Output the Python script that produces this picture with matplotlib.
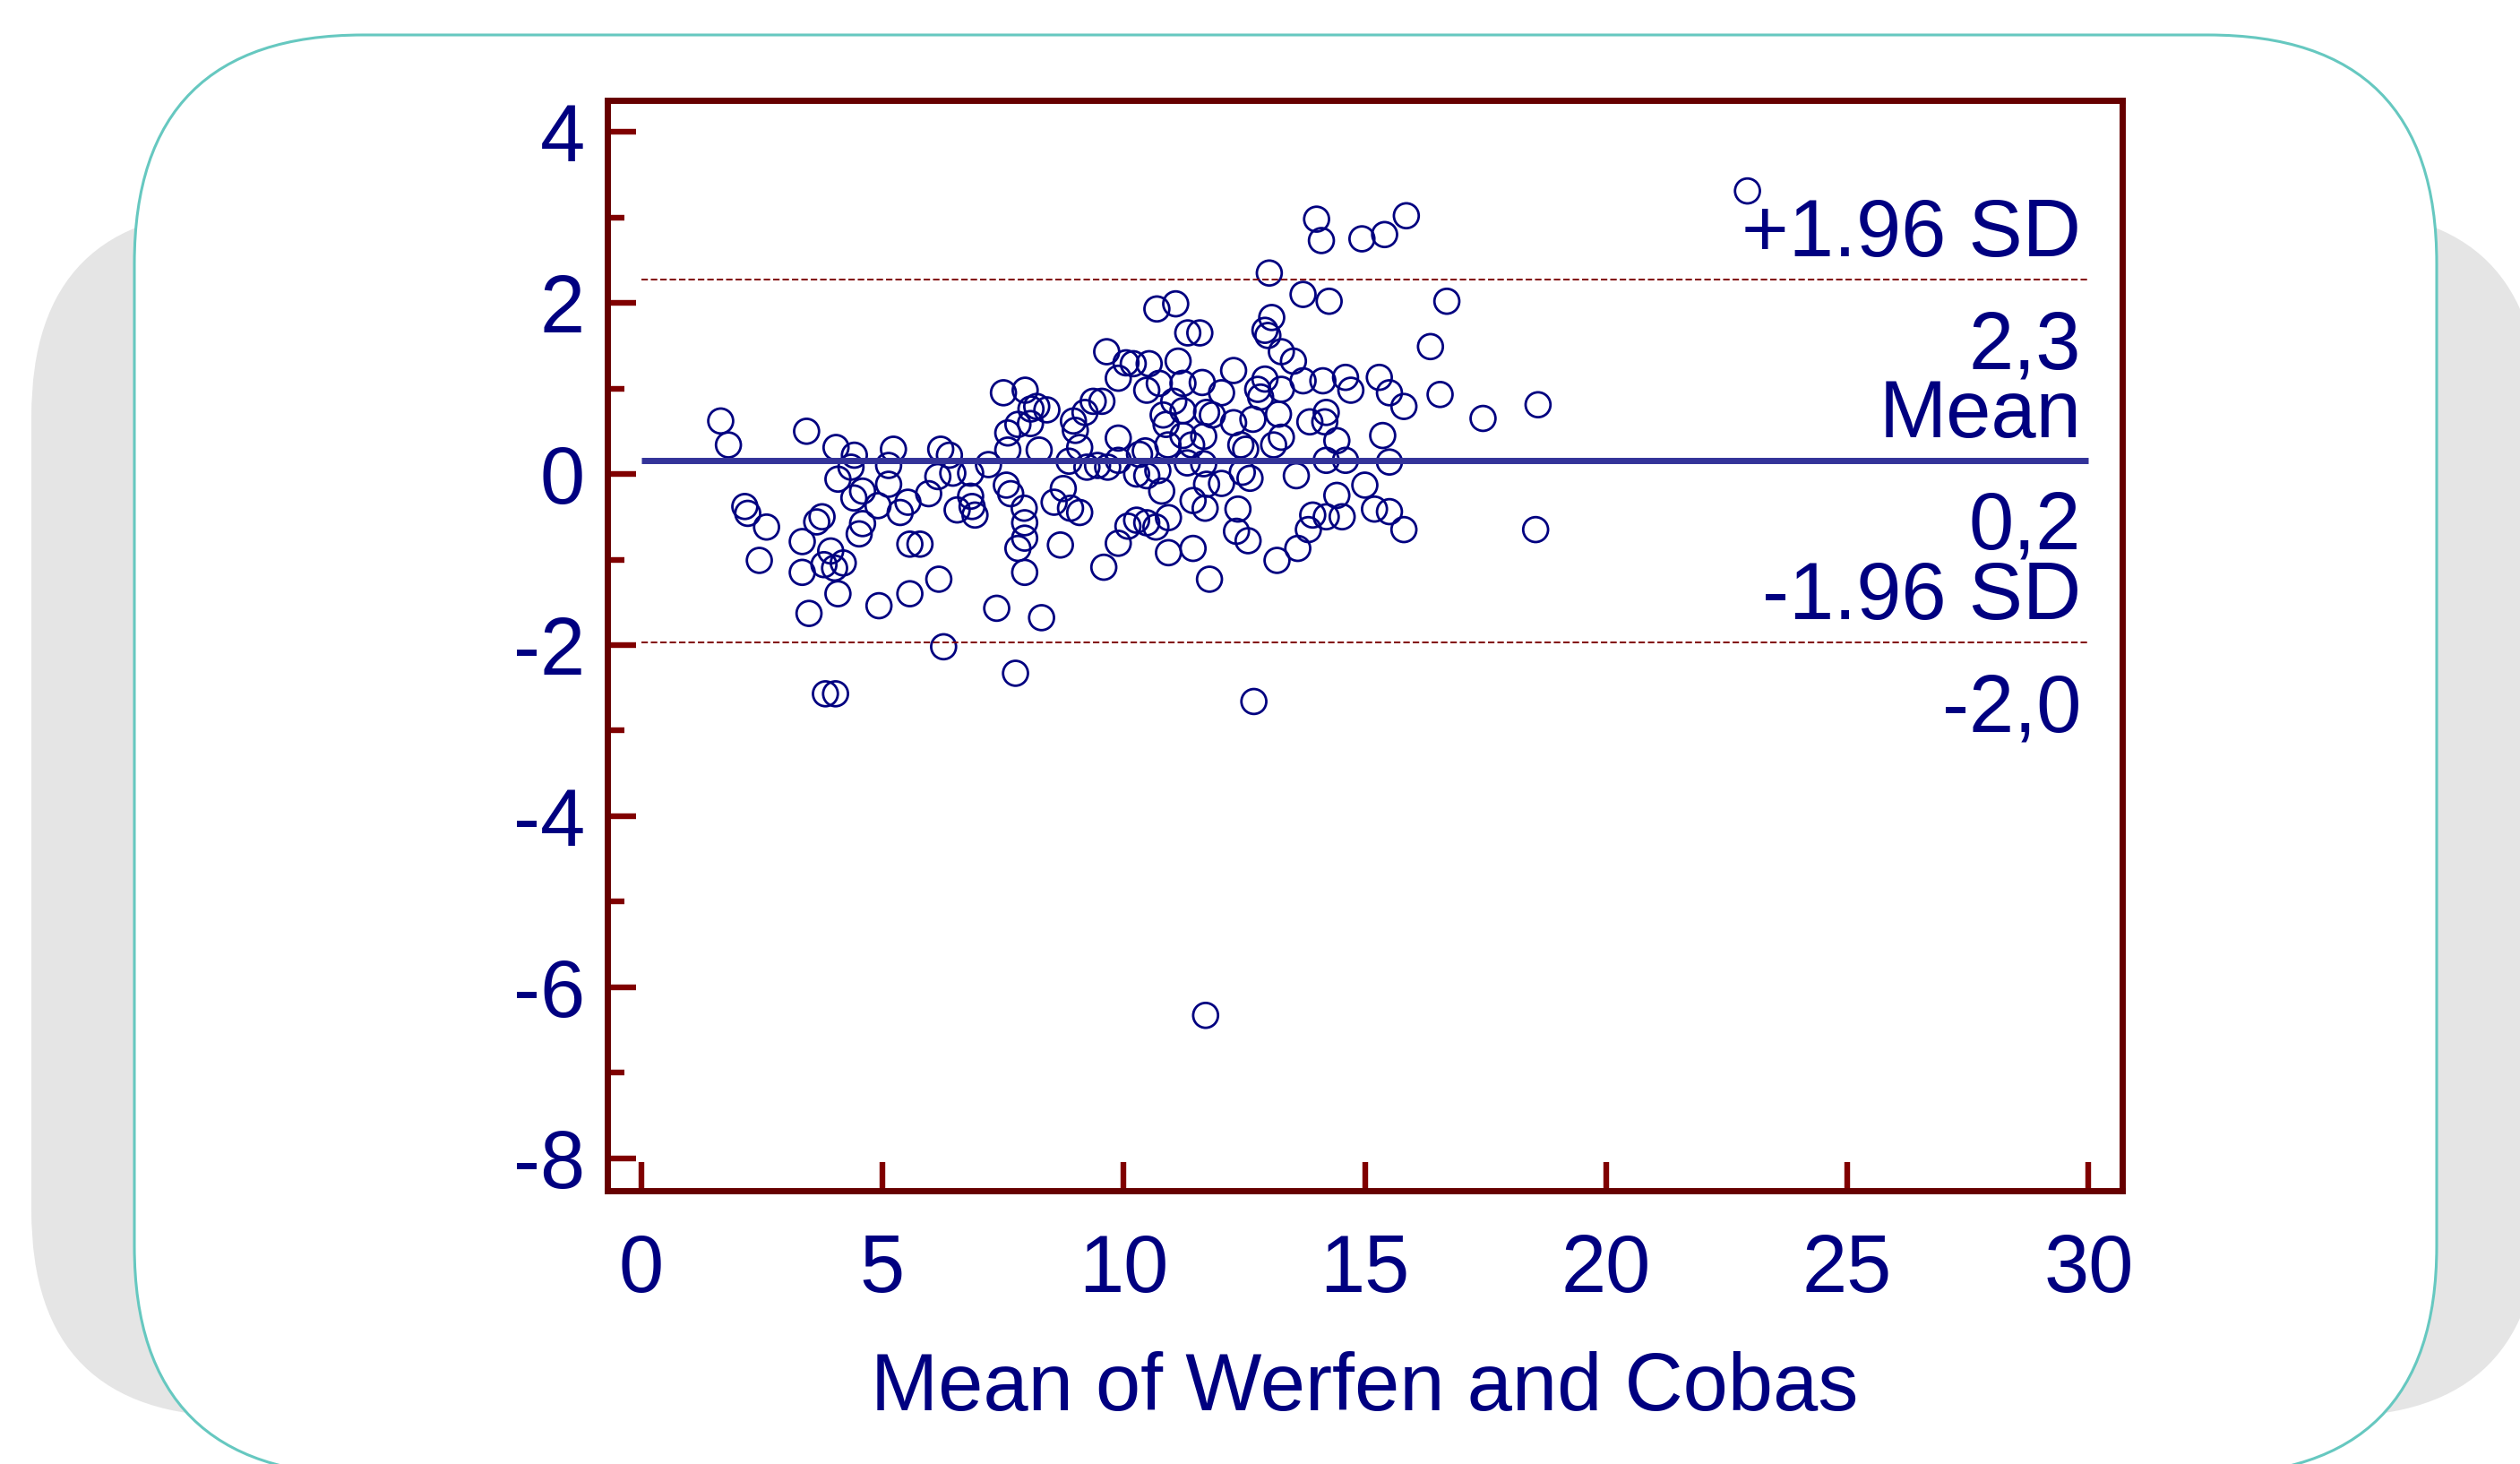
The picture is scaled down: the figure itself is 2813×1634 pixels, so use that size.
import matplotlib
matplotlib.use("Agg")
import matplotlib.pyplot as plt
from matplotlib.patches import FancyBboxPatch
from matplotlib.ticker import MultipleLocator

plt.rcParams['font.family'] = ['Liberation Sans', 'DejaVu Sans']
plt.rcParams['axes.unicode_minus'] = False

# Bland-Altman data: mean of both methods vs. difference
mean_werfen_cobas = [
    1.65, 1.81, 3.43, 4.04, 4.42, 4.35, 5.23, 5.13, 6.21, 6.39,
    7.51, 7.96, 8.08, 8.20, 8.41, 8.07, 7.81, 7.60, 7.60, 8.25,
    7.20, 6.83, 6.46, 6.15, 4.08, 4.41, 4.59, 5.13, 4.91, 5.53,
    5.37, 5.96, 6.55, 6.83, 6.86, 6.92, 7.57, 7.66, 7.94, 7.95,
    7.95, 7.81, 7.95, 2.15, 2.21, 2.60, 2.45, 3.34, 3.34, 3.48,
    3.64, 3.75, 3.93, 3.79, 4.01, 4.19, 4.08, 3.82, 4.03, 4.52,
    4.59, 4.93, 5.57, 5.78, 5.57, 6.17, 6.27, 7.37, 7.76, 8.30,
    13.02, 13.72, 14.26, 10.69, 11.08, 11.33, 11.58, 13.07, 12.93, 12.99,
    13.27, 13.52, 9.65, 10.05, 10.20, 10.53, 9.89, 11.13, 12.28, 10.48,
    10.74, 11.23, 11.63, 12.03, 12.93, 12.78, 12.84, 13.27, 13.72, 14.13,
    14.60, 14.71, 8.96, 9.00, 9.20, 9.37, 9.55, 9.09, 8.87, 9.24,
    9.46, 9.67, 9.89, 9.89, 10.33, 10.45, 10.27, 10.48, 10.71, 10.79,
    10.82, 10.88, 10.92, 11.04, 11.23, 11.23, 11.41, 11.32, 11.66, 11.72,
    11.84, 11.66, 11.72, 12.03, 12.28, 12.43, 12.53, 12.46, 12.62, 12.68,
    13.21, 13.27, 13.11, 13.58, 13.86, 14.20, 14.17, 14.42, 14.20, 14.60,
    14.42, 13.92, 14.20, 14.53, 13.83, 13.61, 13.18, 12.37, 12.34, 12.58,
    11.44, 11.69, 11.78, 11.44, 10.93, 10.93, 10.67, 10.48, 10.27, 10.09,
    9.89, 9.59, 8.69, 9.09, 8.90, 8.56, 8.75,
    15.86, 15.41, 14.94, 16.70, 16.36, 15.30, 15.51, 15.81, 16.56, 17.45,
    18.59, 15.37, 15.51, 15.00, 15.20, 15.51, 15.81, 18.54,
    14.00, 14.10, 22.93, 11.70, 12.70,
]
difference = [
    0.62, 0.34, 0.50, 0.31, 0.22, 0.08, 0.29, 0.10, 0.29, 0.22,
    0.95, 0.98, 0.76, 0.79, 0.75, 0.59, 0.58, 0.48, 0.28, 0.28,
    0.11, 0.01, 0.01, -0.03, -0.06, -0.28, -0.20, -0.12, -0.37, -0.33,
    -0.45, -0.23, -0.42, -0.26, -0.38, -0.48, -0.13, -0.23, -0.40, -0.57,
    -0.75, -0.87, -1.15, -0.38, -0.46, -0.62, -1.01, -0.79, -1.15, -1.63,
    -0.56, -0.50, -0.90, -1.06, -1.10, -1.04, -1.40, -2.57, -2.57, -0.70,
    -0.58, -1.54, -0.82, -0.82, -1.40, -1.23, -2.02, -1.57, -2.33, -1.68,
    2.35, 2.10, 2.02, 1.93, 1.99, 1.65, 1.65, 1.83, 1.68, 1.62,
    1.43, 1.32, 1.43, 1.30, 1.29, 1.29, 1.12, 1.32, 1.21, 0.98,
    1.06, 1.06, 1.07, 0.95, 1.11, 0.99, 0.90, 0.99, 1.09, 1.09,
    1.13, 0.98, 0.62, 0.51, 0.72, 0.85, 0.85, 0.31, 0.15, 0.08,
    0.10, 0.08, 0.42, 0.16, 0.23, 0.27, 0.00, -0.02, 0.04, -0.20,
    0.69, 0.58, 0.34, 0.85, 0.74, 0.45, 0.34, 0.13, 0.44, 0.72,
    0.69, 0.12, -0.12, -0.11, 0.60, 0.34, 0.29, 0.02, -0.05, 0.64,
    0.70, 0.43, 0.34, -0.02, 0.61, 0.72, 0.61, 0.39, 0.16, 0.16,
    -0.25, -0.48, -0.50, -0.50, -0.65, -0.87, -1.01, -0.41, -0.67, -0.78,
    -0.31, -0.40, -1.23, -0.87, -0.92, -0.51, -0.62, -0.57, -0.54, -0.61,
    -0.81, -1.09, -0.83, -0.45, -0.40, -0.33, -0.17,
    3.02, 2.80, 2.75, 2.02, 1.49, 1.13, 0.95, 0.79, 0.93, 0.65,
    0.81, 0.45, 0.14, -0.13, -0.41, -0.44, -0.65, -0.65,
    2.98, 2.73, 3.31, -6.33, -2.66,
]

mean_diff = 0.16
upper_loa = 2.27
lower_loa = -1.97
line_labels = [("+1.96 SD", "2,3", upper_loa),
               ("Mean", "0,2", mean_diff),
               ("-1.96 SD", "-2,0", lower_loa)]

W, H, DPI = 2813, 1634, 200
NAVY = "#000080"
FRAME = "#660000"
DARKRED = "#800000"
FS = 32.5

fig = plt.figure(figsize=(W / DPI, H / DPI), dpi=DPI)
fig.patch.set_facecolor("white")

# decorative card behind the chart (pixel coordinates)
bg = fig.add_axes([0, 0, 1, 1])
bg.set_xlim(0, W)
bg.set_ylim(H, 0)
bg.axis("off")
bg.add_patch(FancyBboxPatch((35, 235), 2800, 1346,
                            boxstyle="round,pad=0,rounding_size=230",
                            fc="#e5e5e5", ec="none"))
bg.add_patch(FancyBboxPatch((150, 39), 2570, 1607,
                            boxstyle="round,pad=0,rounding_size=255",
                            fc="white", ec="#66c8c0", lw=1.1))

ax = fig.add_axes([0.2410, 0.1867, 0.6012, 0.7448])
ax.set_facecolor("white")

ax.scatter(mean_werfen_cobas, difference, s=100, facecolors="none",
           edgecolors=NAVY, linewidths=1.0, zorder=2)

ax.plot([0, 30], [mean_diff, mean_diff], color="#333399", lw=2.5,
        solid_capstyle="butt", zorder=3)
for yv in (upper_loa, lower_loa):
    ax.plot([0, 30], [yv, yv], color=DARKRED, lw=0.7,
            ls=(0, (3.7, 1.7)), zorder=3)

for name, value, yv in line_labels:
    ax.annotate(name, xy=(29.85, yv), xytext=(0, 9.4), textcoords="offset points",
                ha="right", va="baseline", fontsize=FS, color=NAVY)
    ax.annotate(value, xy=(29.85, yv), xytext=(0, -11.9), textcoords="offset points",
                ha="right", va="top", fontsize=FS, color=NAVY)

ax.set_xlim(-0.7, 30.7)
ax.set_ylim(-8.38, 4.37)
ax.set_xticks(range(0, 31, 5))
ax.yaxis.set_major_locator(MultipleLocator(2))
ax.yaxis.set_minor_locator(MultipleLocator(1))

for sp in ax.spines.values():
    sp.set_color(FRAME)
    sp.set_linewidth(2.5)

ax.tick_params(axis="both", which="major", direction="in", length=11.5, width=2.3,
               color=DARKRED, labelsize=FS, labelcolor=NAVY)
ax.tick_params(axis="y", which="minor", direction="in", length=7, width=2.3,
               color=DARKRED)
ax.tick_params(axis="x", pad=17)
ax.tick_params(axis="y", pad=9)

ax.set_xlabel("Mean of Werfen and Cobas", fontsize=FS, color=NAVY, labelpad=17)

fig.savefig("out.png", dpi=DPI)
